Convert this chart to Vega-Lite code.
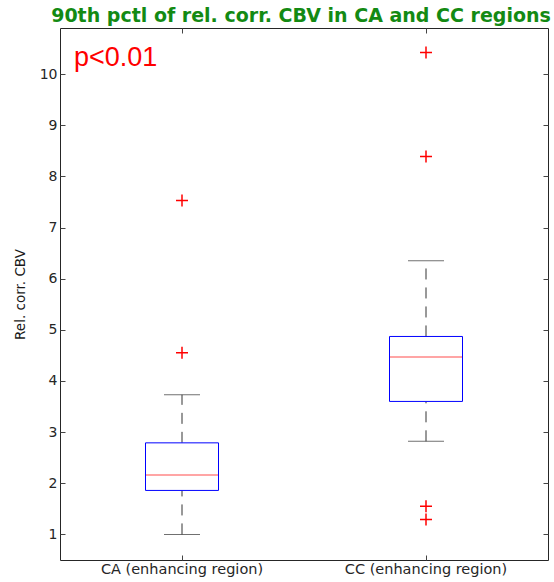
{
  "$schema": "https://vega.github.io/schema/vega-lite/v6.json",
  "autosize": "none",
  "width": 488,
  "height": 532,
  "padding": {"left": 60, "top": 28, "right": 6, "bottom": 22},
  "background": "white",
  "title": {
    "text": "90th pctl of rel. corr. CBV in CA and CC regions",
    "font": "DejaVu Sans",
    "fontSize": 19,
    "fontWeight": "bold",
    "color": "#138a13",
    "anchor": "middle",
    "baseline": "alphabetic",
    "offset": -13,
    "dx": -3
  },
  "datasets": {
    "boxes": [
      {"g": "CA (enhancing region)", "lo": 1.0, "q1": 1.86, "med": 2.16, "q3": 2.79, "hi": 3.73},
      {"g": "CC (enhancing region)", "lo": 2.82, "q1": 3.60, "med": 4.47, "q3": 4.87, "hi": 6.35}
    ],
    "outliers": [
      {"g": "CA (enhancing region)", "v": 4.55},
      {"g": "CA (enhancing region)", "v": 7.53},
      {"g": "CC (enhancing region)", "v": 10.42},
      {"g": "CC (enhancing region)", "v": 8.39},
      {"g": "CC (enhancing region)", "v": 1.55},
      {"g": "CC (enhancing region)", "v": 1.29}
    ],
    "note": [
      {"g": "CA (enhancing region)", "v": 10.16, "t": "p<0.01"}
    ]
  },
  "layer": [
    {
      "data": {"name": "boxes"},
      "mark": {"type": "rule", "strokeDash": [11, 8], "color": "#333333", "strokeWidth": 1},
      "encoding": {
        "x": {"field": "g", "type": "nominal", "sort": null,
              "scale": {"type": "band", "paddingInner": 0, "paddingOuter": 0},
              "axis": {"orient": "bottom", "title": null, "labelAngle": 0, "labelFont": "DejaVu Sans", "labelFontSize": 14.5, "labelColor": "#262626", "labelPadding": 7, "tickSize": -5, "tickColor": "#444444", "domain": false}},
        "y": {"field": "q3", "type": "quantitative",
              "scale": {"domain": [0.5, 10.9], "nice": false, "zero": false},
              "axis": {"orient": "left", "title": "Rel. corr. CBV", "titleFont": "DejaVu Sans", "titleFontSize": 13.5, "titleFontWeight": "normal", "titleColor": "#1a1a1a", "titlePadding": 12,
                       "values": [1,2,3,4,5,6,7,8,9,10], "labelFont": "DejaVu Sans", "labelFontSize": 14, "labelColor": "#262626", "labelPadding": 8, "tickSize": -5, "tickColor": "#444444", "domain": false, "grid": false}},
        "y2": {"field": "hi"}
      }
    },
    {
      "data": {"name": "boxes"},
      "mark": {"type": "rule", "strokeDash": [11, 8], "color": "#333333", "strokeWidth": 1},
      "encoding": {
        "x": {"field": "g", "type": "nominal", "sort": null, "axis": null},
        "y": {"field": "lo", "type": "quantitative", "axis": null},
        "y2": {"field": "q1"}
      }
    },
    {
      "data": {"name": "boxes"},
      "mark": {"type": "tick", "size": 36, "thickness": 1, "color": "#333333"},
      "encoding": {
        "x": {"field": "g", "type": "nominal", "sort": null, "axis": null},
        "y": {"field": "hi", "type": "quantitative", "axis": null}
      }
    },
    {
      "data": {"name": "boxes"},
      "mark": {"type": "tick", "size": 36, "thickness": 1, "color": "#333333"},
      "encoding": {
        "x": {"field": "g", "type": "nominal", "sort": null, "axis": null},
        "y": {"field": "lo", "type": "quantitative", "axis": null}
      }
    },
    {
      "data": {"name": "boxes"},
      "mark": {"type": "bar", "size": 73, "fill": "white", "stroke": "#0000ff", "strokeWidth": 1},
      "encoding": {
        "x": {"field": "g", "type": "nominal", "sort": null, "axis": null},
        "y": {"field": "q1", "type": "quantitative", "axis": null},
        "y2": {"field": "q3"}
      }
    },
    {
      "data": {"name": "boxes"},
      "mark": {"type": "tick", "size": 72, "thickness": 1, "color": "#ff0000"},
      "encoding": {
        "x": {"field": "g", "type": "nominal", "sort": null, "axis": null},
        "y": {"field": "med", "type": "quantitative", "axis": null}
      }
    },
    {
      "data": {"name": "outliers"},
      "mark": {"type": "point", "shape": "M-1,0L1,0M0,-1L0,1", "size": 144, "filled": false, "stroke": "#ff0000", "strokeWidth": 1.5, "opacity": 1},
      "encoding": {
        "x": {"field": "g", "type": "nominal", "sort": null, "axis": null},
        "y": {"field": "v", "type": "quantitative", "axis": null}
      }
    },
    {
      "data": {"name": "boxes"},
      "mark": {"type": "tick", "opacity": 0},
      "encoding": {
        "x": {"field": "g", "type": "nominal", "sort": null,
              "axis": {"orient": "top", "title": null, "labels": false, "tickSize": -5, "tickColor": "#444444", "domain": false}},
        "y": {"field": "med", "type": "quantitative",
              "axis": {"orient": "right", "title": null, "labels": false, "values": [1,2,3,4,5,6,7,8,9,10], "tickSize": -5, "tickColor": "#444444", "domain": false, "grid": false}}
      }
    },
    {
      "data": {"name": "note"},
      "mark": {"type": "text", "font": "Liberation Sans", "fontSize": 27, "color": "#ff0000", "align": "left", "baseline": "alphabetic", "dx": -108},
      "encoding": {
        "x": {"field": "g", "type": "nominal", "sort": null, "axis": null},
        "y": {"field": "v", "type": "quantitative", "axis": null},
        "text": {"field": "t"}
      }
    }
  ],
  "resolve": {"axis": {"x": "independent", "y": "independent"}},
  "config": {
    "view": {"stroke": "#262626", "strokeWidth": 1}
  }
}
